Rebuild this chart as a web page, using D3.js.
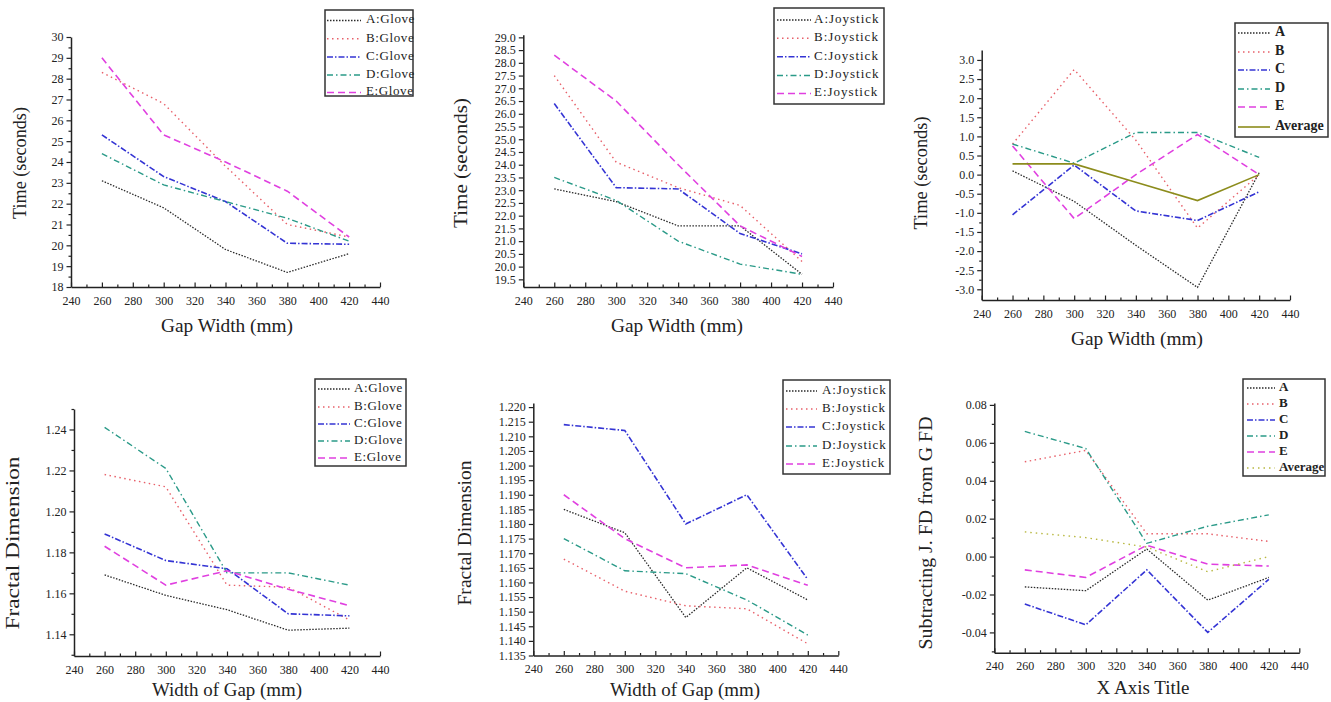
<!DOCTYPE html>
<html><head><meta charset="utf-8">
<script src="https://cdn.jsdelivr.net/npm/d3@7"></script>
<style>
body{margin:0;background:#fff;}
svg{display:block;}
.axis .domain{stroke:#222;stroke-width:1.5;}
.axis line{stroke:#222;stroke-width:1.2;}
.axis text{font-size:12px;fill:#222;}
</style></head><body>
<svg id="c" width="1331" height="702"></svg>
<script>
// ---------- data ----------
const xValues = [260, 300, 340, 380, 420];
const xTickValues = [240, 260, 280, 300, 320, 340, 360, 380, 400, 420, 440];

const gloveLabels = ["A:Glove", "B:Glove", "C:Glove", "D:Glove", "E:Glove"];
const joystickLabels = ["A:Joystick", "B:Joystick", "C:Joystick", "D:Joystick", "E:Joystick"];
const diffLabels = ["A", "B", "C", "D", "E", "Average"];

// Panel 1: Time, Glove
const timeGloveA = [23.1, 21.8, 19.8, 18.7, 19.6];
const timeGloveB = [28.3, 26.8, 23.8, 21.0, 20.4];
const timeGloveC = [25.3, 23.3, 22.1, 20.1, 20.05];
const timeGloveD = [24.4, 22.9, 22.1, 21.3, 20.2];
const timeGloveE = [29.0, 25.3, 24.0, 22.6, 20.4];
// Panel 2: Time, Joystick
const timeJoyA = [23.05, 22.55, 21.6, 21.6, 19.7];
const timeJoyB = [27.5, 24.1, 23.1, 22.4, 20.2];
const timeJoyC = [26.4, 23.1, 23.05, 21.3, 20.5];
const timeJoyD = [23.5, 22.6, 21.0, 20.1, 19.7];
const timeJoyE = [28.3, 26.5, 24.0, 21.6, 20.4];
// Panel 3: Time difference
const timeDiffA = [0.1, -0.7, -1.85, -2.95, 0.05];
const timeDiffB = [0.8, 2.75, 0.9, -1.4, 0.0];
const timeDiffC = [-1.05, 0.25, -0.95, -1.2, -0.45];
const timeDiffD = [0.8, 0.3, 1.1, 1.1, 0.45];
const timeDiffE = [0.75, -1.15, 0.0, 1.05, 0.0];
const timeDiffAvg = [0.28, 0.28, -0.2, -0.68, 0.0];
// Panel 4: Fractal dimension, Glove
const fdGloveA = [1.169, 1.159, 1.152, 1.142, 1.143];
const fdGloveB = [1.218, 1.212, 1.164, 1.163, 1.147];
const fdGloveC = [1.189, 1.176, 1.172, 1.150, 1.149];
const fdGloveD = [1.241, 1.221, 1.170, 1.170, 1.164];
const fdGloveE = [1.183, 1.164, 1.171, 1.162, 1.154];
// Panel 5: Fractal dimension, Joystick
const fdJoyA = [1.185, 1.177, 1.148, 1.165, 1.154];
const fdJoyB = [1.168, 1.157, 1.152, 1.151, 1.139];
const fdJoyC = [1.214, 1.212, 1.180, 1.190, 1.161];
const fdJoyD = [1.175, 1.164, 1.163, 1.154, 1.142];
const fdJoyE = [1.190, 1.175, 1.165, 1.166, 1.159];
// Panel 6: FD difference
const fdDiffA = [-0.016, -0.018, 0.004, -0.023, -0.011];
const fdDiffB = [0.050, 0.056, 0.012, 0.012, 0.008];
const fdDiffC = [-0.025, -0.036, -0.007, -0.040, -0.012];
const fdDiffD = [0.066, 0.057, 0.007, 0.016, 0.022];
const fdDiffE = [-0.007, -0.011, 0.006, -0.004, -0.005];
const fdDiffAvg = [0.013, 0.010, 0.005, -0.008, 0.000];

// tick labels
const yTicks1 = d3.range(18, 30.01, 1);
const yTicks2 = d3.range(19.5, 29.01, 0.5);
const yTicks3 = d3.range(-3, 3.01, 0.5);
const yTicks4 = [1.14, 1.16, 1.18, 1.20, 1.22, 1.24];
const yTicks5 = d3.range(1.135, 1.2201, 0.005);
const yTicks6 = [-0.04, -0.02, 0.00, 0.02, 0.04, 0.06, 0.08];

// ---------- styles ----------
const FONT = "'Liberation Serif', 'DejaVu Serif', serif";
const styles = [
  {color:"#2a2a2a", dash:"1.5,1.5", w:1.3},
  {color:"#e8606a", dash:"1.5,3.5", w:1.4},
  {color:"#3434d4", dash:"6,2,1.5,2", w:1.6},
  {color:"#2a9a88", dash:"6,3,1.5,3", w:1.4},
  {color:"#e040e0", dash:"7,4", w:1.6}
];
const avgStyle3 = {color:"#8c8c1c", dash:null, w:1.6};
const avgStyle6 = {color:"#b8b840", dash:"1.5,4", w:1.4};

const panels = [
  {x0:71, x1:380, yDom:[18,30], yR:[287,37], ticks:yTicks1, minor:d3.range(18.5,30,1), fmt:"d",
   series:[timeGloveA,timeGloveB,timeGloveC,timeGloveD,timeGloveE], labels:gloveLabels, st:styles,
   yTitle:"Time (seconds)", yT:[22,163,112], xTitle:"Gap Width (mm)", xT:[227,328,132],
   leg:{x:325,y:10,w:88,h:86,rows:[20.5,38.7,57,75,92.5],s0:327,s1:361,tx:366,fs:13,ls:0.6,bold:false}},
  {x0:523.3, x1:833, yDom:[19.2,29.1], yR:[287,34.8], ticks:yTicks2, minor:[], fmt:".1f",
   series:[timeJoyA,timeJoyB,timeJoyC,timeJoyD,timeJoyE], labels:joystickLabels, st:styles,
   yTitle:"Time (seconds)", yT:[463,163,130], xTitle:"Gap Width (mm)", xT:[677,328,132],
   leg:{x:774,y:8,w:110,h:96,rows:[20,38.3,56.7,75.5,93.5],s0:777,s1:811,tx:814,fs:13,ls:1,bold:false}},
  {x0:981.7, x1:1290, yDom:[-3.28,3.26], yR:[300,50], ticks:yTicks3, minor:d3.range(-2.75,3,0.5), fmt:".1f",
   series:[timeDiffA,timeDiffB,timeDiffC,timeDiffD,timeDiffE,timeDiffAvg], labels:diffLabels, st:styles.concat([avgStyle3]),
   yTitle:"Time (seconds)", yT:[923,173,113], xTitle:"Gap Width (mm)", xT:[1137,341,132],
   leg:{x:1235,y:23,w:93,h:114,rows:[33,52,70,89,107,127],s0:1238,s1:1270,tx:1275,fs:14,ls:0,bold:true}},
  {x0:74, x1:380, yDom:[1.1294,1.25], yR:[656,409], ticks:yTicks4, minor:[1.13,1.15,1.17,1.19,1.21,1.23,1.25], fmt:".2f",
   series:[fdGloveA,fdGloveB,fdGloveC,fdGloveD,fdGloveE], labels:gloveLabels, st:styles,
   yTitle:"Fractal Dimension", yT:[15,543,173], xTitle:"Width of Gap (mm)", xT:[227,692,150],
   leg:{x:315,y:379,w:91,h:87,rows:[389,407,424,441,458],s0:318,s1:350,tx:354,fs:13,ls:0.6,bold:false}},
  {x0:533.3, x1:838.3, yDom:[1.135,1.2214], yR:[655.5,403], ticks:yTicks5, minor:[], fmt:".3f",
   series:[fdJoyA,fdJoyB,fdJoyC,fdJoyD,fdJoyE], labels:joystickLabels, st:styles,
   yTitle:"Fractal Dimension", yT:[467,533,145], xTitle:"Width of Gap (mm)", xT:[685,692,150],
   leg:{x:783,y:380,w:107,h:94,rows:[391,409,427,446,464],s0:786,s1:817,tx:822,fs:13,ls:0.9,bold:false}},
  {x0:994.3, x1:1299.3, yDom:[-0.0507,0.081], yR:[652.7,403], ticks:yTicks6, minor:d3.range(-0.05,0.081,0.02), fmt:".2f",
   series:[fdDiffA,fdDiffB,fdDiffC,fdDiffD,fdDiffE,fdDiffAvg], labels:diffLabels, st:styles.concat([avgStyle6]),
   yTitle:"Subtracting J. FD from G FD", yT:[928,533,233], xTitle:"X Axis Title", xT:[1143,690,93],
   leg:{x:1243,y:379,w:82,h:97,rows:[388,404,420,436,452,468],s0:1247,s1:1275,tx:1279,fs:13,ls:0,bold:true}}
];

const svg = d3.select("#c");
const minorX = d3.range(250, 440, 20);

function serif(sel){ sel.attr("font-family", FONT); sel.selectAll("text").attr("font-family", FONT); }

panels.forEach(p => {
  const g = svg.append("g").attr("font-family", FONT);
  const x = d3.scaleLinear().domain([240,440]).range([p.x0,p.x1]);
  const y = d3.scaleLinear().domain(p.yDom).range(p.yR);
  const yBottom = p.yR[0];
  const fmt = v => d3.format(p.fmt)(v).replace("\u2212","-");

  g.append("g").attr("class","axis").attr("transform",`translate(0,${yBottom})`)
    .call(d3.axisBottom(x).tickValues(minorX).tickSizeInner(-2.5).tickSizeOuter(0).tickFormat(""))
    .call(s=>s.select(".domain").remove());
  g.append("g").attr("class","axis").attr("transform",`translate(0,${yBottom})`)
    .call(d3.axisBottom(x).tickValues(xTickValues).tickSizeInner(-4.5).tickSizeOuter(0).tickPadding(9).tickFormat(d3.format("d")))
    .call(serif);
  if (p.minor.length) {
    g.append("g").attr("class","axis").attr("transform",`translate(${p.x0},0)`)
      .call(d3.axisLeft(y).tickValues(p.minor.filter(v=>v>=p.yDom[0]&&v<=p.yDom[1])).tickSizeInner(2.5).tickSizeOuter(0).tickFormat(""))
      .call(s=>s.select(".domain").remove());
  }
  g.append("g").attr("class","axis").attr("transform",`translate(${p.x0},0)`)
    .call(d3.axisLeft(y).tickValues(p.ticks).tickSizeInner(4.5).tickSizeOuter(0).tickPadding(3).tickFormat(fmt))
    .call(serif);

  const line = d3.line().x((d,i)=>x(xValues[i])).y(d=>y(d));
  p.series.forEach((s,i) => {
    const st = p.st[i];
    g.append("path").attr("d", line(s)).attr("fill","none")
      .attr("stroke", st.color).attr("stroke-width", st.w)
      .attr("stroke-dasharray", st.dash);
  });

  g.append("text").text(p.yTitle)
    .attr("transform",`translate(${p.yT[0]},${p.yT[1]}) rotate(-90)`)
    .attr("text-anchor","middle").attr("dominant-baseline","middle")
    .attr("font-family", FONT).attr("font-size",18).attr("fill","#222")
    .attr("textLength",p.yT[2]).attr("lengthAdjust","spacingAndGlyphs");
  g.append("text").text(p.xTitle)
    .attr("x",p.xT[0]).attr("y",p.xT[1])
    .attr("text-anchor","middle").attr("dominant-baseline","middle")
    .attr("font-family", FONT).attr("font-size",18).attr("fill","#222")
    .attr("textLength",p.xT[2]).attr("lengthAdjust","spacingAndGlyphs");

  const L = p.leg;
  g.append("rect").attr("x",L.x).attr("y",L.y).attr("width",L.w).attr("height",L.h)
    .attr("fill","#fff").attr("stroke","#333").attr("stroke-width",1.5);
  p.labels.forEach((lab,i) => {
    const st = p.st[i];
    const ry = L.rows[i];
    g.append("line").attr("x1",L.s0).attr("x2",L.s1).attr("y1",ry).attr("y2",ry)
      .attr("stroke",st.color).attr("stroke-width",st.w).attr("stroke-dasharray",st.dash);
    g.append("text").text(lab).attr("x",L.tx).attr("y",ry)
      .attr("dominant-baseline","middle").attr("font-family", FONT).attr("font-size",L.fs)
      .attr("font-weight", L.bold ? "bold" : "normal")
      .attr("letter-spacing", L.ls).attr("fill","#222");
  });
});
</script>
</body></html>
